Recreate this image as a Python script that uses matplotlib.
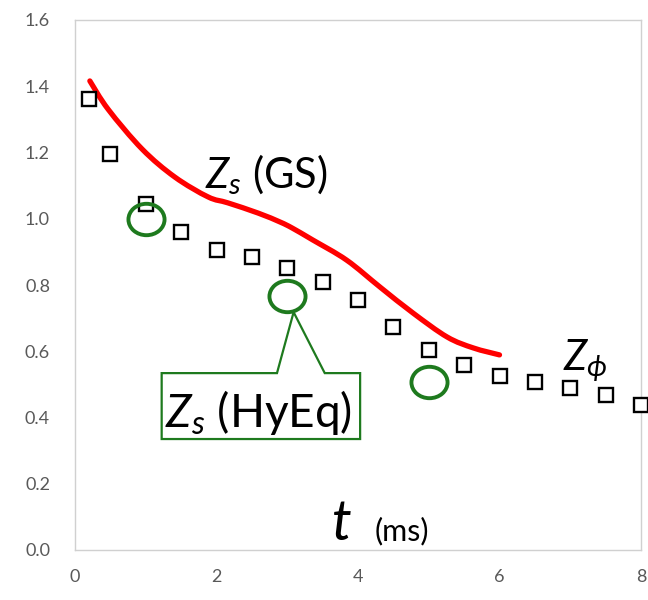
import matplotlib
matplotlib.use("Agg")
import matplotlib.pyplot as plt
from matplotlib.path import Path
from matplotlib.patches import Polygon, PathPatch
import numpy as np

plt.rcParams['font.family'] = ['Lato', 'DejaVu Sans']
plt.rcParams['mathtext.fontset'] = 'custom'
plt.rcParams['mathtext.rm'] = 'Lato'
plt.rcParams['mathtext.it'] = 'Lato:italic'

# Z_phi (open squares)
t_phi = [0.2, 0.5, 1.0, 1.5, 2.0, 2.5, 3.0, 3.5, 4.0, 4.5, 5.0, 5.5, 6.0, 6.5, 7.0, 7.5, 8.0]
z_phi = [1.36, 1.195, 1.045, 0.96, 0.905, 0.885, 0.85, 0.81, 0.755, 0.673, 0.604, 0.558, 0.525, 0.507, 0.49, 0.468, 0.438]

# Z_s (HyEq) (green circles)
t_hyeq = [1.0, 3.0, 5.0]
z_hyeq = [1.0, 0.767, 0.507]

# Z_s (GS) (red curve)
t_gs = [0.21, 0.47, 0.95, 1.41, 1.88, 2.16, 2.59, 2.90, 3.07, 3.36, 3.84, 4.31, 4.78, 5.26, 5.63, 6.0]
z_gs = [1.416, 1.33, 1.21, 1.126, 1.066, 1.048, 1.017, 0.99, 0.972, 0.936, 0.875, 0.794, 0.715, 0.643, 0.61, 0.589]

x_ticks = [0, 2, 4, 6, 8]
y_ticks = [0.0, 0.2, 0.4, 0.6, 0.8, 1.0, 1.2, 1.4, 1.6]


def smooth_path(xs, ys):
    # Excel-style smoothed line: cubic bezier through the points
    p = np.column_stack([xs, ys])
    n = len(p)
    verts = [p[0]]
    codes = [Path.MOVETO]
    for i in range(n - 1):
        p0 = p[i - 1] if i > 0 else p[i]
        p3 = p[i + 2] if i + 2 < n else p[i + 1]
        c1 = p[i] + (p[i + 1] - p0) / 6
        c2 = p[i + 1] - (p3 - p[i]) / 6
        verts += [c1, c2, p[i + 1]]
        codes += [Path.CURVE4] * 3
    return Path(verts, codes)


fig = plt.figure(figsize=(6.48, 6.0), dpi=100)
ax = fig.add_axes([75/648, 50/600, 566/648, 530/600])

ax.add_patch(PathPatch(smooth_path(t_gs, z_gs), facecolor='none', edgecolor='#ff0000',
                       linewidth=3.8, capstyle='round', joinstyle='round', zorder=3))

ax.plot(t_phi, z_phi, linestyle='none', marker='s', markersize=9.5,
        markerfacecolor='white', markeredgecolor='black', markeredgewidth=1.7,
        clip_on=False, zorder=4)

# slightly wide ellipse marker
circ = Path.unit_circle()
ell = Path(circ.vertices * np.array([1.15, 1.0]), circ.codes)
ax.plot(t_hyeq, z_hyeq, linestyle='none', marker=ell, markersize=26,
        markerfacecolor='none', markeredgecolor='#1e7a1e', markeredgewidth=2.8, zorder=5)

# callout box for HyEq
bx0, bx1, by0, by1 = 1.225, 4.03, 0.335, 0.534
tip = (3.09, 0.718)
callout = Polygon([(bx0, by0), (bx0, by1), (2.855, by1), tip, (3.53, by1), (bx1, by1), (bx1, by0)],
                  closed=True, facecolor='white', edgecolor='#1e7a1e', linewidth=1.6, zorder=6)
ax.add_patch(callout)

ax.text(1.27, 0.371, r'$Z_s$ (HyEq)', fontsize=33, va='baseline', ha='left', zorder=7)
ax.text(1.84, 1.093, r'$Z_s$ (GS)', fontsize=30, va='baseline', ha='left', zorder=7)
ax.text(6.9, 0.543, r'$Z_\phi$', fontsize=30, va='baseline', ha='left', zorder=7)

ax.text(3.63, 0.03, 't', fontsize=40, style='italic', va='baseline', ha='left')
ax.text(4.24, 0.03, '(ms)', fontsize=22, va='baseline', ha='left')

ax.set_xlim(0, 8)
ax.set_ylim(0, 1.6)
ax.set_xticks(x_ticks)
ax.set_yticks(y_ticks)
ax.set_yticklabels(['%.1f' % v for v in y_ticks])
ax.tick_params(axis='both', length=0, labelsize=13, labelcolor='#595959')
ax.tick_params(axis='x', pad=14)
ax.tick_params(axis='y', pad=18)

for s in ax.spines.values():
    s.set_color('#d0d0d0')
    s.set_linewidth(1.0)

plt.savefig("out.png", dpi=100)
